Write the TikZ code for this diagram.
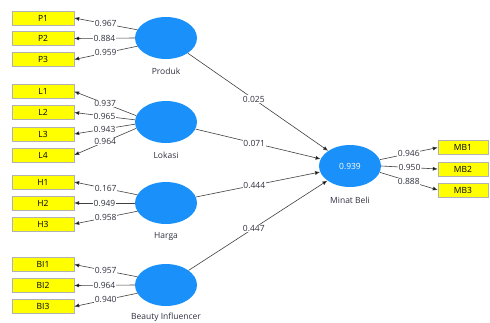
\documentclass[tikz,border=0pt]{standalone}
\usepackage{fontspec}
\setmainfont{Open Sans}
\usetikzlibrary{arrows.meta,shapes.geometric}
\definecolor{lv}{HTML}{1A90FA}
\definecolor{ind}{HTML}{FFFF00}
\definecolor{txt}{HTML}{303040}
\tikzset{
  lvnode/.style={ellipse, fill=lv, draw=none, minimum width=62pt, minimum height=42pt, inner sep=0pt, text=white, font=\fontsize{8.5}{10}\selectfont},
  indbox/.style={rectangle, draw=gray!60, fill=ind, minimum width=62pt, minimum height=14pt, inner sep=0pt, font=\fontsize{8.5}{10}\selectfont, text=black},
  mbbox/.style={indbox, minimum width=50pt},
  lvlab/.style={font=\fontsize{8.5}{10}\selectfont, text=txt},
  conn/.style={draw=gray!50!black, line width=0.6pt, -{Latex[length=5pt,width=4pt,fill=black]}},
  wt/.style={fill=white, inner sep=0.5pt, font=\fontsize{8.5}{10}\selectfont, text=txt}
}
\begin{document}
\begin{tikzpicture}[x=1pt,y=-1pt]
\useasboundingbox (0,0) rectangle (490,322);
% latent variables
\node[lvnode] (prod) at (166,38) {};
\node[lvnode] (lok) at (166,122) {};
\node[lvnode] (har) at (166,203) {};
\node[lvnode] (bi) at (166,285) {};
\node[lvnode] (mb) at (350,166) {0.939};
\node[lvlab] (prodl) at (166,71) {Produk};
\node[lvlab] (lokl) at (166,155) {Lokasi};
\node[lvlab] (harl) at (166,236) {Harga};
\node[lvlab] (bil) at (166,317) {Beauty Influencer};
\node[lvlab] (mbl) at (350,200) {Minat Beli};
% indicators
\node[indbox] (p1) at (43,18) {P1};
\node[indbox] (p2) at (43,38.5) {P2};
\node[indbox] (p3) at (43,59.5) {P3};
\node[indbox] (l1) at (43,91.5) {L1};
\node[indbox] (l2) at (43,112.5) {L2};
\node[indbox] (l3) at (43,134) {L3};
\node[indbox] (l4) at (43,155) {L4};
\node[indbox] (h1) at (43,182) {H1};
\node[indbox] (h2) at (43,203) {H2};
\node[indbox] (h3) at (43,224) {H3};
\node[indbox] (b1) at (43,264.5) {BI1};
\node[indbox] (b2) at (43,285.5) {BI2};
\node[indbox] (b3) at (43,306.5) {BI3};
\node[mbbox] (m1) at (463,147.5) {MB1};
\node[mbbox] (m2) at (463,169) {MB2};
\node[mbbox] (m3) at (463,190) {MB3};
% outer loadings
\draw[conn] (prod.164) -- node[wt] {0.967} (p1.east);
\draw[conn] (prod.180) -- node[wt] {0.884} (p2.east);
\draw[conn] (prod.196) -- node[wt] {0.959} (p3.east);
\draw[conn] (lok.168) -- node[wt] {0.937} (l1.east);
\draw[conn] (lok.176) -- node[wt] {0.965} (l2.east);
\draw[conn] (lok.184) -- node[wt] {0.943} (l3.east);
\draw[conn] (lok.192) -- node[wt] {0.964} (l4.east);
\draw[conn] (har.164) -- node[wt] {0.167} (h1.east);
\draw[conn] (har.180) -- node[wt] {0.949} (h2.east);
\draw[conn] (har.196) -- node[wt] {0.958} (h3.east);
\draw[conn] (bi.164) -- node[wt] {0.957} (b1.east);
\draw[conn] (bi.180) -- node[wt] {0.964} (b2.east);
\draw[conn] (bi.196) -- node[wt] {0.940} (b3.east);
\draw[conn] (mb.12) -- node[wt] {0.946} (m1.west);
\draw[conn] (mb.0) -- node[wt] {0.950} (m2.west);
\draw[conn] (mb.-12) -- node[wt] {0.888} (m3.west);
% path coefficients
\draw[conn] (prod) -- node[wt, pos=0.47] {0.025} (mb);
\draw[conn] (lok) -- node[wt, pos=0.47] {0.071} (mb);
\draw[conn] (har) -- node[wt, pos=0.47] {0.444} (mb);
\draw[conn] (bi) -- node[wt, pos=0.47] {0.447} (mb);
\end{tikzpicture}
\end{document}
